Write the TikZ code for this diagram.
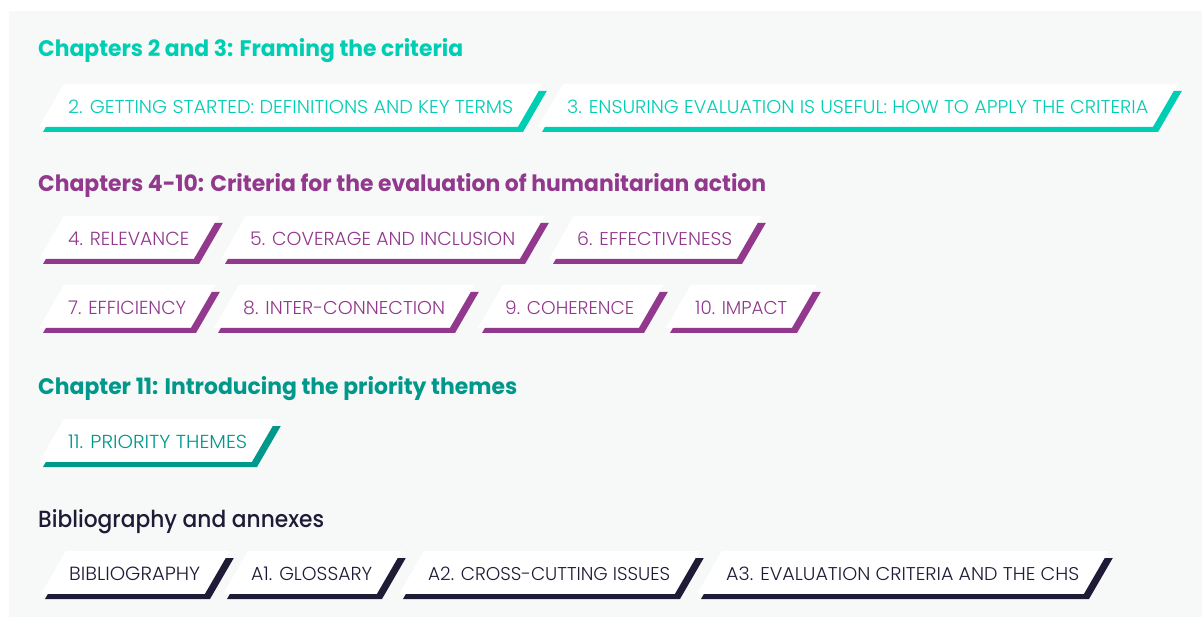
\documentclass[tikz,border=0pt]{standalone}
\usepackage{fontspec}
\setmainfont{Poppins}
\newfontfamily\tablight{Poppins Light}
\newfontfamily\popmedium{Poppins Medium}
\usepackage{graphicx}
\definecolor{tealA}{RGB}{0,206,178}
\definecolor{purpleB}{RGB}{146,56,141}
\definecolor{tealC}{RGB}{0,152,138}
\definecolor{navyD}{RGB}{31,27,54}
\definecolor{bggray}{RGB}{247,249,249}
\tikzset{
  tabtext/.style={anchor=base west, inner sep=0pt},
  heading/.style={anchor=base west, inner sep=0pt},
}
% #1 name, #2 band left, #3 text start, #4 text end, #5 band bottom y, #6 colour, #7 text
\newcommand{\mytab}[7]{%
  \pgfmathsetmacro\myR{#4+10}%
  \pgfmathsetlengthmacro\mytw{#4pt-#3pt}%
  \fill[white] ({#2-4},{#5-5}) -- ({#2-4+0.58*43},{#5-48}) -- ({\myR-8+0.58*48},{#5-48}) -- ({\myR-8+0.58*5},{#5-5}) -- cycle;
  \fill[#6] (#2,#5) -- (\myR,#5) -- ({\myR+0.58*41},{#5-41}) -- ({\myR+0.58*41-8},{#5-41}) -- ({\myR-8+0.58*5},{#5-5}) -- ({#2+0.58*5},{#5-5}) -- cycle;
  \node[tabtext, text=#6] (#1) at (#3,{#5-18.5}) {\resizebox{\mytw}{13.5pt}{\tablight\fontsize{14}{16}\selectfont #7}};
}
% #1 name, #2 baseline y, #3 right end x, #4 colour, #5 text, #6 font switch
\newcommand{\myhead}[6]{%
  \pgfmathsetlengthmacro\myhw{#3pt-38pt}%
  \node[heading, text=#4] (#1) at (38,#2) {\resizebox{\myhw}{18pt}{#6\fontsize{18}{20}\selectfont #5}};
}
\begin{document}
\begin{tikzpicture}[x=1pt,y=-1pt]
\useasboundingbox (0,0) rectangle (1202,617);
\fill[white] (0,0) rectangle (1202,617);
\fill[bggray] (9,11) rectangle (1202,617);

\myhead{h1}{57}{463}{tealA}{Chapters 2 and 3: Framing the criteria}{\bfseries}
\mytab{t2}{43}{68}{513}{132}{tealA}{2. GETTING STARTED: DEFINITIONS AND KEY TERMS}
\mytab{t3}{542}{567}{1148}{132}{tealA}{3. ENSURING EVALUATION IS USEFUL: HOW TO APPLY THE CRITERIA}

\myhead{h2}{192}{766}{purpleB}{Chapters 4-10: Criteria for the evaluation of humanitarian action}{\bfseries}
\mytab{t4}{43}{68}{189}{264}{purpleB}{4. RELEVANCE}
\mytab{t5}{225}{250}{515}{264}{purpleB}{5. COVERAGE AND INCLUSION}
\mytab{t6}{553}{577}{732}{264}{purpleB}{6. EFFECTIVENESS}
\mytab{t7}{43}{68}{186}{333}{purpleB}{7. EFFICIENCY}
\mytab{t8}{218}{243}{445}{333}{purpleB}{8. INTER-CONNECTION}
\mytab{t9}{482}{505}{634}{333}{purpleB}{9. COHERENCE}
\mytab{t10}{670}{695}{787}{333}{purpleB}{10. IMPACT}

\myhead{h3}{395}{517}{tealC}{Chapter 11: Introducing the priority themes}{\bfseries}
\mytab{t11}{43}{68}{247}{467}{tealC}{11. PRIORITY THEMES}

\myhead{h4}{527}{324}{navyD}{Bibliography and annexes}{\popmedium}
\mytab{tb}{45}{69}{200}{599}{navyD}{BIBLIOGRAPHY}
\mytab{ta1}{227}{251}{372}{599}{navyD}{A1. GLOSSARY}
\mytab{ta2}{403}{428}{670}{599}{navyD}{A2. CROSS-CUTTING ISSUES}
\mytab{ta3}{701}{726}{1079}{599}{navyD}{A3. EVALUATION CRITERIA AND THE CHS}
\end{tikzpicture}
\end{document}
